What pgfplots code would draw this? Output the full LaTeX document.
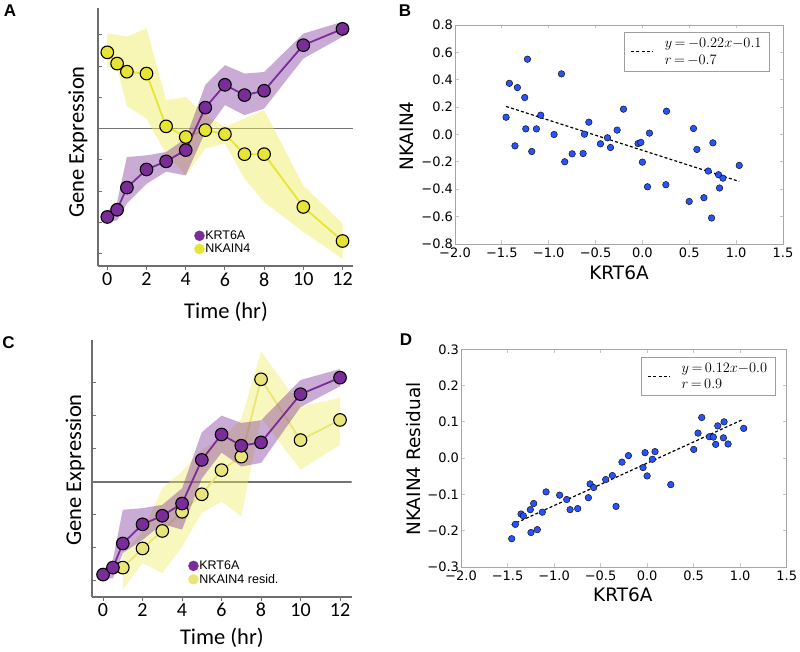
\documentclass[border=0pt]{standalone}
\usepackage{fontspec}
\setmainfont{Carlito}
\newfontfamily\dejavu{DejaVu Sans}
\newfontfamily\arialf{Liberation Sans}
\usepackage{pgfplots}
\pgfplotsset{compat=1.18}
\definecolor{kpurple}{RGB}{122,44,152}
\definecolor{nyellow}{RGB}{230,228,52}
\definecolor{ryellow}{RGB}{234,229,120}
\definecolor{bandyel}{RGB}{238,236,90}
\definecolor{spinegray}{RGB}{110,110,110}
\definecolor{midgray}{RGB}{115,115,115}
\definecolor{dotblue}{RGB}{40,82,250}
\pgfplotsset{
  timeaxis/.style={
    scale only axis, anchor=south west,
    axis x line*=bottom, axis y line*=left,
    axis line style={draw=spinegray, line width=1.8pt, -},
    xtick={0,2,4,6,8,10,12}, xticklabels={0,2,4,6,8,10,12},
    ytick={-4,-3,-2,-1,0,1,2,3}, yticklabels={},
    tick align=inside, major tick length=4pt,
    tick style={draw=spinegray, line width=1pt},
    xtick style={yshift=-4pt},
    xticklabel style={font=\fontsize{20}{22}\selectfont, yshift=-3pt},
    label style={font=\fontsize{22.5}{26}\selectfont},
    xlabel={Time (hr)}, ylabel={Gene Expression},
    legend style={draw=none, fill=none, anchor=north west, inner sep=0pt,
      font=\arialf\fontsize{12.5}{14}\selectfont, row sep=1.8pt,
      nodes={inner sep=0.6pt}},
    legend cell align=left,
  },
  scataxis/.style={
    scale only axis, anchor=south west,
    xmin=-2, xmax=1.5,
    xtick={-2,-1.5,-1,-0.5,0,0.5,1,1.5},
    xticklabels={−2.0,−1.5,−1.0,−0.5,0.0,0.5,1.0,1.5},
    axis line style={draw=gray!70, line width=0.8pt},
    tick align=inside, major tick length=3.5pt,
    tick style={draw=gray!45, line width=0.8pt},
    ticklabel style={font=\dejavu\fontsize{13}{15}\selectfont},
    yticklabel style={xshift=1.5pt},
    label style={font=\dejavu\fontsize{18.5}{21}\selectfont},
    xlabel={KRT6A},
    legend style={draw=gray!75, line width=0.8pt, fill=white, anchor=north west,
      font=\fontsize{15.5}{16.6}\selectfont, inner xsep=6pt, inner ysep=3.5pt},
    legend cell align=left,
  },
}
\begin{document}
\begin{tikzpicture}
% ---------------- Panel A ----------------
\begin{axis}[timeaxis, at={(97.7pt,386pt)}, width=255.6pt, height=258pt,
  xmin=-0.49, xmax=12.55, ymin=-4.40, ymax=3.86,
  xlabel style={at={(axis description cs:0.502,-0.178)}, anchor=center},
  ylabel style={at={(axis description cs:-0.077,0.481)}, anchor=center},
  legend style={at={(axis description cs:0.377,0.14)}}]
\addlegendimage{legend image code/.code={\fill[kpurple] (5pt,0pt) circle (5pt);}}
\addlegendentry{KRT6A}
\addlegendimage{legend image code/.code={\fill[nyellow] (5pt,0pt) circle (5pt);}}
\addlegendentry{NKAIN4}
\addplot[forget plot, midgray, line width=1.8pt] coordinates {(-0.49,0) (12.55,0)};
\addplot[forget plot, draw=none, fill=bandyel, fill opacity=0.45] coordinates {
(0,3.04) (0.5,3.0) (1,2.94) (2,3.21) (3,0.91) (4,1.01) (5,0.43) (6,0.05) (7,0.32) (8,0.59) (10,-1.82) (12,-3.04)
(12,-4.17) (10,-3.31) (8,-2.35) (7,-1.60) (6,-0.48) (5,-0.64) (4,-1.50) (3,-0.80) (2,0.32) (1,0.72) (0.5,1.92) (0,1.98)};
\addplot[forget plot, nyellow, line width=1.8pt, mark=*, mark size=6.3pt,
  mark options={fill=nyellow, draw=black, line width=1.1pt}] coordinates {
(0,2.44) (0.5,2.08) (1,1.82) (2,1.76) (3,0.07) (4,-0.27) (5,-0.05) (6,-0.18) (7,-0.82) (8,-0.82) (10,-2.51) (12,-3.60)};
\addplot[forget plot, draw=none, fill=kpurple, fill opacity=0.4] coordinates {
(0,-2.67) (0.5,-2.35) (1,-0.91) (2,-0.86) (3,-0.75) (4,-0.32) (5,1.40) (6,2.03) (7,1.76) (8,1.81) (10,3.04) (12,3.42)
(12,2.94) (10,2.24) (8,0.64) (7,0.43) (6,0.75) (5,-0.11) (4,-1.50) (3,-1.38) (2,-1.77) (1,-2.40) (0.5,-2.94) (0,-2.99)};
\addplot[forget plot, kpurple, line width=1.8pt, mark=*, mark size=6.3pt,
  mark options={fill=kpurple, draw=black, line width=1.1pt}] coordinates {
(0,-2.83) (0.5,-2.60) (1,-1.89) (2,-1.31) (3,-1.05) (4,-0.69) (5,0.67) (6,1.40) (7,1.07) (8,1.21) (10,2.67) (12,3.19)};
\end{axis}
% ---------------- Panel C ----------------
\begin{axis}[timeaxis, at={(92pt,55.3pt)}, width=259.7pt, height=256.7pt,
  xmin=-0.56, xmax=12.59, ymin=-3.48, ymax=4.29,
  xlabel style={at={(axis description cs:0.5,-0.162)}, anchor=center},
  ylabel style={at={(axis description cs:-0.065,0.494)}, anchor=center},
  legend style={at={(axis description cs:0.37,0.143)}}]
\addlegendimage{legend image code/.code={\fill[kpurple] (5pt,0pt) circle (5pt);}}
\addlegendentry{KRT6A}
\addlegendimage{legend image code/.code={\fill[ryellow] (5pt,0pt) circle (5pt);}}
\addlegendentry{NKAIN4 resid.}
\addplot[forget plot, midgray, line width=1.8pt] coordinates {(-0.56,0) (12.59,0)};
\addplot[forget plot, draw=none, fill=bandyel, fill opacity=0.4] coordinates {
(1,-2.2) (2,-1.5) (3,-0.19) (4,0.31) (5,0.97) (6,1.32) (7,1.9) (8,3.95) (10,2.28) (12,2.54)
(12,1.12) (10,0.36) (8,1.93) (7,-1.05) (6,-0.6) (5,-0.95) (4,-1.96) (3,-2.77) (2,-2.46) (1,-3.27)};
\addplot[forget plot, ryellow, line width=1.8pt, mark=*, mark size=6.3pt,
  mark options={fill=ryellow, draw=black, line width=1.1pt}] coordinates {
(1,-2.60) (2,-2.02) (3,-1.49) (4,-0.91) (5,-0.38) (6,0.35) (7,0.76) (8,3.10) (10,1.26) (12,1.87)};
\addplot[forget plot, draw=none, fill=kpurple, fill opacity=0.4] coordinates {
(0,-2.67) (0.5,-2.35) (1,-0.85) (2,-0.80) (3,-0.70) (4,-0.20) (5,1.50) (6,2.0) (7,1.78) (8,1.86) (10,3.08) (12,3.41)
(12,2.89) (10,2.26) (8,0.57) (7,0.46) (6,0.88) (5,0.10) (4,-1.45) (3,-1.28) (2,-1.76) (1,-2.16) (0.5,-2.92) (0,-2.95)};
\addplot[forget plot, kpurple, line width=1.8pt, mark=*, mark size=6.3pt,
  mark options={fill=kpurple, draw=black, line width=1.1pt}] coordinates {
(0,-2.81) (0.5,-2.60) (1,-1.87) (2,-1.29) (3,-1.03) (4,-0.66) (5,0.66) (6,1.43) (7,1.09) (8,1.19) (10,2.65) (12,3.15)};
\end{axis}
% ---------------- Panel B ----------------
\begin{axis}[scataxis, at={(455pt,408pt)}, width=328pt, height=219pt,
  ymin=-0.8, ymax=0.8,
  ytick={-0.8,-0.6,-0.4,-0.2,0,0.2,0.4,0.6,0.8},
  yticklabels={−0.8,−0.6,−0.4,−0.2,0.0,0.2,0.4,0.6,0.8},
  ylabel={NKAIN4},
  xlabel style={at={(axis description cs:0.5,-0.132)}, anchor=center},
  ylabel style={at={(axis description cs:-0.146,0.493)}, anchor=center},
  legend style={at={(axis description cs:0.516,0.967)}}]
\addlegendimage{legend image code/.code={\draw[black, line width=1.2pt, dash pattern=on 3pt off 2.2pt] (4pt,0pt) -- (25pt,0pt);}}
\addlegendentry{\hspace{10pt}\vbox{\hbox{$y\,{=}\,{-}0.22x{-}0.1$}\hbox{$r\,{=}\,{-}0.7$}}}
\addplot[forget plot, only marks, mark=*, mark size=3.3pt, mark options={fill=dotblue, draw=none}] coordinates {
(-1.455,0.126) (-1.42,0.374) (-1.36,-0.083) (-1.334,0.343) (-1.256,0.27) (-1.245,0.041) (-1.227,0.55)
(-1.181,-0.124) (-1.131,0.041) (-1.085,0.141) (-0.943,0.0) (-0.864,0.443) (-0.829,-0.199) (-0.75,-0.141)
(-0.633,-0.139) (-0.619,0.002) (-0.572,0.09) (-0.448,-0.068) (-0.373,-0.024) (-0.341,-0.095) (-0.27,0.032)
(-0.202,0.185) (-0.046,-0.066) (-0.017,-0.058) (0.0,-0.202) (0.054,-0.382) (0.075,0.01) (0.25,-0.367)
(0.257,0.17) (0.499,-0.489) (0.545,0.044) (0.581,-0.109) (0.656,-0.462) (0.702,-0.267) (0.738,-0.61)
(0.752,-0.061) (0.812,-0.294) (0.823,-0.391) (0.859,-0.319) (1.033,-0.226)};
\addplot[forget plot, black, line width=1.2pt, dash pattern=on 3pt off 2.2pt] coordinates {(-1.455,0.205) (1.033,-0.343)};
\end{axis}
% ---------------- Panel D ----------------
\begin{axis}[scataxis, at={(461pt,85pt)}, width=325.7pt, height=217.7pt,
  ymin=-0.3, ymax=0.3,
  ytick={-0.3,-0.2,-0.1,0,0.1,0.2,0.3},
  yticklabels={−0.3,−0.2,−0.1,0.0,0.1,0.2,0.3},
  ylabel={NKAIN4 Residual},
  xlabel style={at={(axis description cs:0.497,-0.129)}, anchor=center},
  ylabel style={at={(axis description cs:-0.147,0.496)}, anchor=center},
  legend style={at={(axis description cs:0.553,0.965)}}]
\addlegendimage{legend image code/.code={\draw[black, line width=1.2pt, dash pattern=on 3pt off 2.2pt] (4pt,0pt) -- (25pt,0pt);}}
\addlegendentry{\hspace{10pt}\vbox{\hbox{$y\,{=}\,0.12x{-}0.0$}\hbox{$r\,{=}\,0.9$}}}
\addplot[forget plot, only marks, mark=*, mark size=3.3pt, mark options={fill=dotblue, draw=none}] coordinates {
(-1.455,-0.222) (-1.416,-0.1825) (-1.355,-0.154) (-1.33,-0.159) (-1.255,-0.142) (-1.248,-0.205) (-1.219,-0.125)
(-1.18,-0.197) (-1.126,-0.149) (-1.086,-0.093) (-0.94,-0.102) (-0.864,-0.114) (-0.828,-0.142) (-0.746,-0.139)
(-0.631,-0.109) (-0.613,-0.071) (-0.574,-0.081) (-0.445,-0.059) (-0.373,-0.048) (-0.334,-0.133) (-0.27,-0.011)
(-0.201,0.007) (-0.044,-0.026) (-0.022,0.015) (0.0,-0.049) (0.057,-0.003) (0.085,0.018) (0.254,-0.073)
(0.501,0.024) (0.547,0.069) (0.587,0.112) (0.669,0.059) (0.712,0.058) (0.737,0.038) (0.759,0.089)
(0.82,0.056) (0.827,0.1) (0.87,0.039) (1.038,0.082)};
\addplot[forget plot, black, line width=1.2pt, dash pattern=on 3pt off 2.2pt] coordinates {(-1.455,-0.184) (1.033,0.107)};
\end{axis}
% panel letters
\node[font=\arialf\bfseries\fontsize{17}{20}\selectfont] at (10pt,641pt) {A};
\node[font=\arialf\bfseries\fontsize{17}{20}\selectfont] at (405pt,641pt) {B};
\node[font=\arialf\bfseries\fontsize{17}{20}\selectfont] at (8.5pt,309pt) {C};
\node[font=\arialf\bfseries\fontsize{17}{20}\selectfont] at (406pt,312pt) {D};
\pgfresetboundingbox
\path[use as bounding box] (0pt,0pt) rectangle (800pt,652pt);
\end{tikzpicture}
\end{document}
